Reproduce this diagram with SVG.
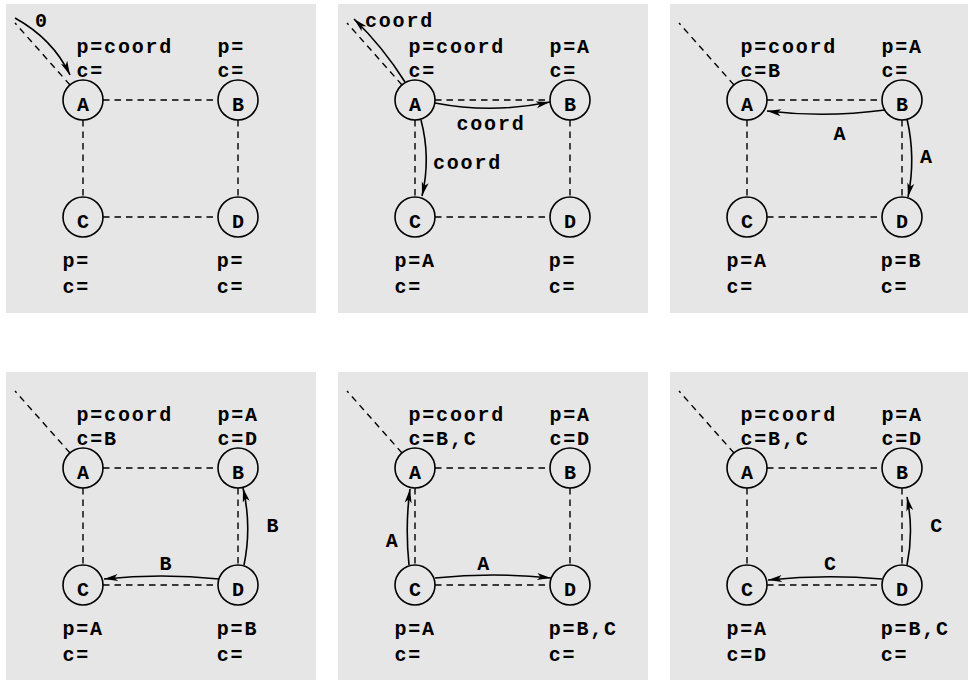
<svg xmlns="http://www.w3.org/2000/svg" width="968" height="680" viewBox="0 0 968 680">
  <style>
    .bg { fill: #e6e6e6; }
    .node { fill: none; stroke: #000; stroke-width: 1.6; }
    .link { fill: none; stroke: #000; stroke-width: 1.4; stroke-dasharray: 6.5 5; }
    .msg { fill: none; stroke: #000; stroke-width: 1.6; marker-end: url(#head); }
    .st { font-family: "Liberation Mono", "Courier New", monospace; font-weight: bold; font-size: 20px; letter-spacing: 1.8px; fill: #000; }
    .lb { font-family: "Liberation Mono", "Courier New", monospace; font-weight: bold; font-size: 20px; text-anchor: middle; fill: #000; }
  </style>
  <defs>
    <marker id="head" markerUnits="userSpaceOnUse" markerWidth="16" markerHeight="10" refX="14" refY="5" orient="auto" overflow="visible">
      <path d="M14,5 L0,1.5 L3.5,5 L0,8.5 Z" fill="#000"/>
    </marker>
    <!-- the four dashed links and the uplink of one panel -->
    <g id="links">
      <line class="link" x1="103" y1="100" x2="218" y2="100"/>
      <line class="link" x1="83" y1="120" x2="83" y2="197"/>
      <line class="link" x1="238" y1="120" x2="238" y2="197"/>
      <line class="link" x1="103" y1="217" x2="218" y2="217"/>
      <line class="link" x1="70" y1="85" x2="15" y2="23"/>
    </g>
  </defs>

  <!-- step 1 -->
  <g id="panel1">
    <rect class="bg" x="6" y="4" width="310" height="309"/>
    <g id="p1-connectors">
      <use href="#links"/>
      <path class="msg" d="M15,18 Q53,39 70,75"/>
      <text class="st" x="35" y="26.7">0</text>
    </g>
    <g id="p1-A"><circle class="node" cx="83" cy="100" r="20"/><text class="lb" x="83" y="111">A</text>
      <text class="st" x="76.5" y="53">p=coord</text><text class="st" x="76.5" y="76.5">c=</text></g>
    <g id="p1-B"><circle class="node" cx="238" cy="100" r="20"/><text class="lb" x="238" y="111">B</text>
      <text class="st" x="217.5" y="53">p=</text><text class="st" x="217.5" y="76.5">c=</text></g>
    <g id="p1-C"><circle class="node" cx="83" cy="217" r="20"/><text class="lb" x="83" y="228">C</text>
      <text class="st" x="62.5" y="266.5">p=</text><text class="st" x="62.5" y="293">c=</text></g>
    <g id="p1-D"><circle class="node" cx="238" cy="217" r="20"/><text class="lb" x="238" y="228">D</text>
      <text class="st" x="216.8" y="266.5">p=</text><text class="st" x="216.8" y="293">c=</text></g>
  </g>

  <!-- step 2 -->
  <g id="panel2" transform="translate(332,0)">
    <rect class="bg" x="6" y="4" width="310" height="309"/>
    <g id="p2-connectors">
      <use href="#links"/>
      <path class="msg" d="M73,82 Q51,47 22,19"/>
      <text class="st" x="33" y="26.7">coord</text>
      <path class="msg" d="M103,103 Q160,114 218,102"/>
      <text class="st" x="124.5" y="130">coord</text>
      <path class="msg" d="M89,120 Q99,158 90,196"/>
      <text class="st" x="101" y="169">coord</text>
    </g>
    <g id="p2-A"><circle class="node" cx="83" cy="100" r="20"/><text class="lb" x="83" y="111">A</text>
      <text class="st" x="76.5" y="53">p=coord</text><text class="st" x="76.5" y="76.5">c=</text></g>
    <g id="p2-B"><circle class="node" cx="238" cy="100" r="20"/><text class="lb" x="238" y="111">B</text>
      <text class="st" x="217.5" y="53">p=A</text><text class="st" x="217.5" y="76.5">c=</text></g>
    <g id="p2-C"><circle class="node" cx="83" cy="217" r="20"/><text class="lb" x="83" y="228">C</text>
      <text class="st" x="62.5" y="266.5">p=A</text><text class="st" x="62.5" y="293">c=</text></g>
    <g id="p2-D"><circle class="node" cx="238" cy="217" r="20"/><text class="lb" x="238" y="228">D</text>
      <text class="st" x="216.8" y="266.5">p=</text><text class="st" x="216.8" y="293">c=</text></g>
  </g>

  <!-- step 3 -->
  <g id="panel3" transform="translate(664,0)">
    <rect class="bg" x="6" y="4" width="310" height="309"/>
    <g id="p3-connectors">
      <use href="#links"/>
      <path class="msg" d="M221,110 Q161,118 103,111"/>
      <text class="lb" x="175.5" y="140">A</text>
      <path class="msg" d="M243,119 Q252,158 244,197"/>
      <text class="lb" x="262" y="163">A</text>
    </g>
    <g id="p3-A"><circle class="node" cx="83" cy="100" r="20"/><text class="lb" x="83" y="111">A</text>
      <text class="st" x="76.5" y="53">p=coord</text><text class="st" x="76.5" y="76.5">c=B</text></g>
    <g id="p3-B"><circle class="node" cx="238" cy="100" r="20"/><text class="lb" x="238" y="111">B</text>
      <text class="st" x="217.5" y="53">p=A</text><text class="st" x="217.5" y="76.5">c=</text></g>
    <g id="p3-C"><circle class="node" cx="83" cy="217" r="20"/><text class="lb" x="83" y="228">C</text>
      <text class="st" x="62.5" y="266.5">p=A</text><text class="st" x="62.5" y="293">c=</text></g>
    <g id="p3-D"><circle class="node" cx="238" cy="217" r="20"/><text class="lb" x="238" y="228">D</text>
      <text class="st" x="216.8" y="266.5">p=B</text><text class="st" x="216.8" y="293">c=</text></g>
  </g>

  <!-- step 4 -->
  <g id="panel4" transform="translate(0,368)">
    <rect class="bg" x="6" y="4" width="310" height="309"/>
    <g id="p4-connectors">
      <use href="#links"/>
      <path class="msg" d="M244,197 Q252,158 243,120"/>
      <text class="lb" x="272.5" y="164">B</text>
      <path class="msg" d="M219,211 Q161,205 104,211"/>
      <text class="lb" x="165.5" y="202">B</text>
    </g>
    <g id="p4-A"><circle class="node" cx="83" cy="100" r="20"/><text class="lb" x="83" y="111">A</text>
      <text class="st" x="76.5" y="53">p=coord</text><text class="st" x="76.5" y="76.5">c=B</text></g>
    <g id="p4-B"><circle class="node" cx="238" cy="100" r="20"/><text class="lb" x="238" y="111">B</text>
      <text class="st" x="217.5" y="53">p=A</text><text class="st" x="217.5" y="76.5">c=D</text></g>
    <g id="p4-C"><circle class="node" cx="83" cy="217" r="20"/><text class="lb" x="83" y="228">C</text>
      <text class="st" x="62.5" y="266.5">p=A</text><text class="st" x="62.5" y="293">c=</text></g>
    <g id="p4-D"><circle class="node" cx="238" cy="217" r="20"/><text class="lb" x="238" y="228">D</text>
      <text class="st" x="216.8" y="266.5">p=B</text><text class="st" x="216.8" y="293">c=</text></g>
  </g>

  <!-- step 5 -->
  <g id="panel5" transform="translate(332,368)">
    <rect class="bg" x="6" y="4" width="310" height="309"/>
    <g id="p5-connectors">
      <use href="#links"/>
      <path class="msg" d="M77,197 Q73,158 78,121"/>
      <text class="lb" x="59.7" y="178.7">A</text>
      <path class="msg" d="M103,210 Q161,204 219,210"/>
      <text class="lb" x="151.3" y="202">A</text>
    </g>
    <g id="p5-A"><circle class="node" cx="83" cy="100" r="20"/><text class="lb" x="83" y="111">A</text>
      <text class="st" x="76.5" y="53">p=coord</text><text class="st" x="76.5" y="76.5">c=B,C</text></g>
    <g id="p5-B"><circle class="node" cx="238" cy="100" r="20"/><text class="lb" x="238" y="111">B</text>
      <text class="st" x="217.5" y="53">p=A</text><text class="st" x="217.5" y="76.5">c=D</text></g>
    <g id="p5-C"><circle class="node" cx="83" cy="217" r="20"/><text class="lb" x="83" y="228">C</text>
      <text class="st" x="62.5" y="266.5">p=A</text><text class="st" x="62.5" y="293">c=</text></g>
    <g id="p5-D"><circle class="node" cx="238" cy="217" r="20"/><text class="lb" x="238" y="228">D</text>
      <text class="st" x="216.8" y="266.5">p=B,C</text><text class="st" x="216.8" y="293">c=</text></g>
  </g>

  <!-- step 6 -->
  <g id="panel6" transform="translate(664,368)">
    <rect class="bg" x="6" y="4" width="310" height="309"/>
    <g id="p6-connectors">
      <use href="#links"/>
      <path class="msg" d="M243,197 Q250,163 243,129"/>
      <text class="lb" x="272.3" y="163.7">C</text>
      <path class="msg" d="M218,211 Q161,206 104,212"/>
      <text class="lb" x="166" y="202">C</text>
    </g>
    <g id="p6-A"><circle class="node" cx="83" cy="100" r="20"/><text class="lb" x="83" y="111">A</text>
      <text class="st" x="76.5" y="53">p=coord</text><text class="st" x="76.5" y="76.5">c=B,C</text></g>
    <g id="p6-B"><circle class="node" cx="238" cy="100" r="20"/><text class="lb" x="238" y="111">B</text>
      <text class="st" x="217.5" y="53">p=A</text><text class="st" x="217.5" y="76.5">c=D</text></g>
    <g id="p6-C"><circle class="node" cx="83" cy="217" r="20"/><text class="lb" x="83" y="228">C</text>
      <text class="st" x="62.5" y="266.5">p=A</text><text class="st" x="62.5" y="293">c=D</text></g>
    <g id="p6-D"><circle class="node" cx="238" cy="217" r="20"/><text class="lb" x="238" y="228">D</text>
      <text class="st" x="216.8" y="266.5">p=B,C</text><text class="st" x="216.8" y="293">c=</text></g>
  </g>
</svg>
